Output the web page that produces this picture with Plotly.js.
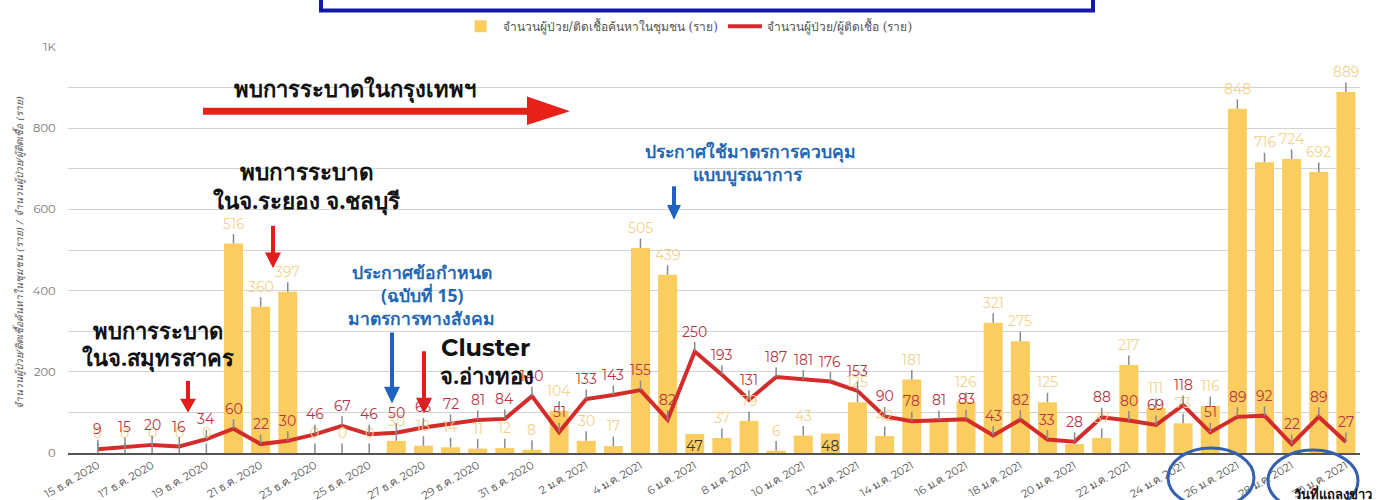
<!DOCTYPE html>
<html>
<head>
<meta charset="utf-8">
<script src="https://cdn.plot.ly/plotly-3.0.1.min.js"></script>
<style>html,body{margin:0;padding:0;background:#fff;}#chart{width:1382px;height:500px;}</style>
</head>
<body>
<div id="chart"></div>
<script>
// ---------- data ----------
const dates = [
  '15 ธ.ค. 2020','16 ธ.ค. 2020','17 ธ.ค. 2020','18 ธ.ค. 2020','19 ธ.ค. 2020','20 ธ.ค. 2020',
  '21 ธ.ค. 2020','22 ธ.ค. 2020','23 ธ.ค. 2020','24 ธ.ค. 2020','25 ธ.ค. 2020','26 ธ.ค. 2020',
  '27 ธ.ค. 2020','28 ธ.ค. 2020','29 ธ.ค. 2020','30 ธ.ค. 2020','31 ธ.ค. 2020',
  '1 ม.ค. 2021','2 ม.ค. 2021','3 ม.ค. 2021','4 ม.ค. 2021','5 ม.ค. 2021','6 ม.ค. 2021',
  '7 ม.ค. 2021','8 ม.ค. 2021','9 ม.ค. 2021','10 ม.ค. 2021','11 ม.ค. 2021','12 ม.ค. 2021',
  '13 ม.ค. 2021','14 ม.ค. 2021','15 ม.ค. 2021','16 ม.ค. 2021','17 ม.ค. 2021','18 ม.ค. 2021',
  '19 ม.ค. 2021','20 ม.ค. 2021','21 ม.ค. 2021','22 ม.ค. 2021','23 ม.ค. 2021','24 ม.ค. 2021',
  '25 ม.ค. 2021','26 ม.ค. 2021','27 ม.ค. 2021','28 ม.ค. 2021','29 ม.ค. 2021','30 ม.ค. 2021'
];
const communityCases = [0,0,0,0,0,516,360,397,0,0,0,30,18,14,11,12,8,104,30,17,505,439,47,37,79,6,43,48,125,42,181,76,126,321,275,125,22,37,217,111,73,116,848,716,724,692,889];
const totalCases = [9,15,20,16,34,60,22,30,46,67,46,50,63,72,81,84,140,51,133,143,155,82,250,193,131,187,181,176,153,90,78,81,83,43,82,33,28,88,80,69,118,51,89,92,22,89,27];
const tickDates = ['15 ธ.ค. 2020','17 ธ.ค. 2020','19 ธ.ค. 2020','21 ธ.ค. 2020','23 ธ.ค. 2020','25 ธ.ค. 2020',
  '27 ธ.ค. 2020','29 ธ.ค. 2020','31 ธ.ค. 2020','2 ม.ค. 2021','4 ม.ค. 2021','6 ม.ค. 2021','8 ม.ค. 2021',
  '10 ม.ค. 2021','12 ม.ค. 2021','14 ม.ค. 2021','16 ม.ค. 2021','18 ม.ค. 2021','20 ม.ค. 2021',
  '22 ม.ค. 2021','24 ม.ค. 2021','26 ม.ค. 2021','28 ม.ค. 2021','30 ม.ค. 2021'];
const yTickVals = [0,100,200,300,400,500,600,700,800,900,1000];
const yTickText = ['0','','200','','400','','600','','800','','1K'];
const barLabelInside = ['6 ม.ค. 2021','11 ม.ค. 2021'];
const barLabelHidden = ['15 ม.ค. 2021','20 ม.ค. 2021'];
const seriesNames = ['จำนวนผู้ป่วย/ติดเชื้อค้นหาในชุมชน (ราย)','จำนวนผู้ป่วย/ผู้ติดเชื้อ (ราย)'];

// ---------- layout helpers ----------
const W = 1382, H = 500, ML = 68, MR = 22, MT = 42, MB = 47;
const PW = W - ML - MR, PH = H - MT - MB;
const PX = x => (x - ML) / PW;
const PY = y => (H - MB - y) / PH;

const THAI = 'Noto Sans, DejaVu Sans, sans-serif';
const NUM = 'Montserrat, Open Sans, Lato, sans-serif';
const BAR = '#fbcd60', LINE = '#d42b2b';

const traces = [
  {type:'bar', x:dates, y:communityCases, name:seriesNames[0], marker:{color:BAR}, hoverinfo:'x+y'},
  {type:'scatter', mode:'lines', x:dates, y:totalCases, name:seriesNames[1], line:{color:LINE, width:4}, hoverinfo:'x+y'}
];

const annotations = [];
dates.forEach((d, i) => {
  const v = communityCases[i];
  if (barLabelHidden.includes(d)) return;
  if (barLabelInside.includes(d)) {
    annotations.push({x:d, y:v, xref:'x', yref:'y', text:String(v), showarrow:false, yanchor:'top', yshift:-1,
      font:{family:NUM, size:14, color:'#333'}});
  } else {
    annotations.push({x:d, y:v, xref:'x', yref:'y', text:String(v), showarrow:true, arrowhead:0, arrowwidth:1.5,
      arrowcolor:'#8a8a8a', ax:0, ay:-20, standoff:0, font:{family:NUM, size:14, color:'#f2d28c'}});
  }
});
dates.forEach((d, i) => {
  const v = totalCases[i];
  annotations.push({x:d, y:v, xref:'x', yref:'y', text:String(v), showarrow:true, arrowhead:0, arrowwidth:1.5,
    arrowcolor:'#8a8a8a', ax:0, ay:-20, standoff:0, font:{family:NUM, size:14, color:'#b8343f'}});
});

function txt(t, x, y, size, color, fam) {
  annotations.push({xref:'paper', yref:'paper', x:PX(x), y:PY(y), text:t, showarrow:false,
    xanchor:'center', yanchor:'middle', font:{family:fam || THAI, size:size, color:color}});
}
txt('<b>พบการระบาดในกรุงเทพฯ</b>', 355, 84, 22, '#111');
txt('<b>พบการระบาด</b>', 307, 168, 22.5, '#111');
txt('<b>ในจ.ระยอง จ.ชลบุรี</b>', 307, 197, 22.5, '#111');
txt('<b>พบการระบาด</b>', 158, 328, 22, '#111');
txt('<b>ในจ.สมุทรสาคร</b>', 158, 356, 22, '#111');
txt('<b>ประกาศข้อกำหนด</b>', 422, 270, 17.5, '#2366b3');
txt('<b>(ฉบับที่ 15)</b>', 422, 293, 17.5, '#2366b3');
txt('<b>มาตรการทางสังคม</b>', 421, 316, 17.5, '#2366b3');
txt('<b>Cluster</b>', 485, 346, 24, '#111', NUM);
txt('<b>จ.อ่างทอง</b>', 487, 374, 22, '#111');
txt('<b>ประกาศใช้มาตรการควบคุม</b>', 750, 147, 17.5, '#2366b3');
txt('<b>แบบบูรณาการ</b>', 748, 171, 17.5, '#2366b3');
txt('<b>วันที่แถลงข่าว</b>', 1333, 494, 13, '#111');

// y axis title as rotated annotation
annotations.push({xref:'paper', yref:'paper', x:PX(19), y:PY(250), text:seriesNames[0] + ' / ' + seriesNames[1],
  textangle:-90, showarrow:false, xanchor:'center', yanchor:'middle',
  font:{family:'DejaVu Serif, Liberation Serif, serif', size:10, color:'#555', style:'italic'}});

const shapes = [];
function vArrow(x, y0, y1, color, w, hw, hh) {
  shapes.push({type:'line', xref:'paper', yref:'paper', x0:PX(x), x1:PX(x), y0:PY(y0), y1:PY(y1 - hh + 1),
    line:{color:color, width:w}});
  shapes.push({type:'path', xref:'paper', yref:'paper', fillcolor:color, line:{width:0},
    path:`M ${PX(x-hw)} ${PY(y1-hh)} L ${PX(x+hw)} ${PY(y1-hh)} L ${PX(x)} ${PY(y1)} Z`});
}
// big horizontal red arrow
shapes.push({type:'line', xref:'paper', yref:'paper', x0:PX(203), x1:PX(530), y0:PY(107), y1:PY(107), line:{color:'#e8201a', width:7}});
shapes.push({type:'path', xref:'paper', yref:'paper', fillcolor:'#e8201a', line:{width:0},
  path:`M ${PX(527)} ${PY(92)} L ${PX(570)} ${PY(107)} L ${PX(527)} ${PY(121)} Z`});
vArrow(188, 380, 412, '#e21d1d', 4, 8, 14);
vArrow(273, 223, 266, '#e21d1d', 4, 8, 16);
vArrow(424, 350, 413, '#e21d1d', 4, 8, 16);
vArrow(392, 331, 403, '#1f62c4', 4, 8, 17);
vArrow(674, 183, 217, '#1f62c4', 4, 7, 15);
// blue box on top
shapes.push({type:'rect', xref:'paper', yref:'paper', x0:PX(321), x1:PX(1093), y0:PY(-20), y1:PY(5),
  line:{color:'#1418a8', width:4}, fillcolor:'rgba(0,0,0,0)'});
// ellipses
shapes.push({type:'circle', xref:'paper', yref:'paper', x0:PX(1168), x1:PX(1254), y0:PY(448), y1:PY(508),
  line:{color:'#3460b0', width:3}});
shapes.push({type:'circle', xref:'paper', yref:'paper', x0:PX(1268), x1:PX(1358), y0:PY(450), y1:PY(512),
  line:{color:'#3460b0', width:3}});

const layout = {
  width:W, height:H, margin:{l:ML, r:MR, t:MT, b:MB}, paper_bgcolor:'#fff', plot_bgcolor:'#fff',
  showlegend:true, bargap:0.3,
  legend:{orientation:'h', x:0.48, xanchor:'center', y:PY(21), yanchor:'middle', font:{family:'DejaVu Serif, serif', size:12, color:'#555'},
    itemwidth:34, bgcolor:'rgba(0,0,0,0)'},
  xaxis:{type:'category', range:[-1.1, 46.52], tickmode:'array', tickvals:tickDates, ticktext:tickDates, tickangle:-30,
    tickfont:{family:NUM, size:11, color:'#555'}, showgrid:false, showline:true, linecolor:'#555', linewidth:2,
    ticks:'', zeroline:false, automargin:false},
  yaxis:{range:[0, 1000], tickmode:'array', tickvals:yTickVals, ticktext:yTickText, tickfont:{family:NUM, size:11.5, color:'#777'},
    gridcolor:'#d3d3d3', gridwidth:1, zeroline:false, showline:false, ticks:'outside', ticklen:9, tickcolor:'rgba(0,0,0,0)', automargin:false},
  annotations:annotations, shapes:shapes
};
Plotly.newPlot('chart', traces, layout, {displayModeBar:false, staticPlot:true});
</script>
</body>
</html>
